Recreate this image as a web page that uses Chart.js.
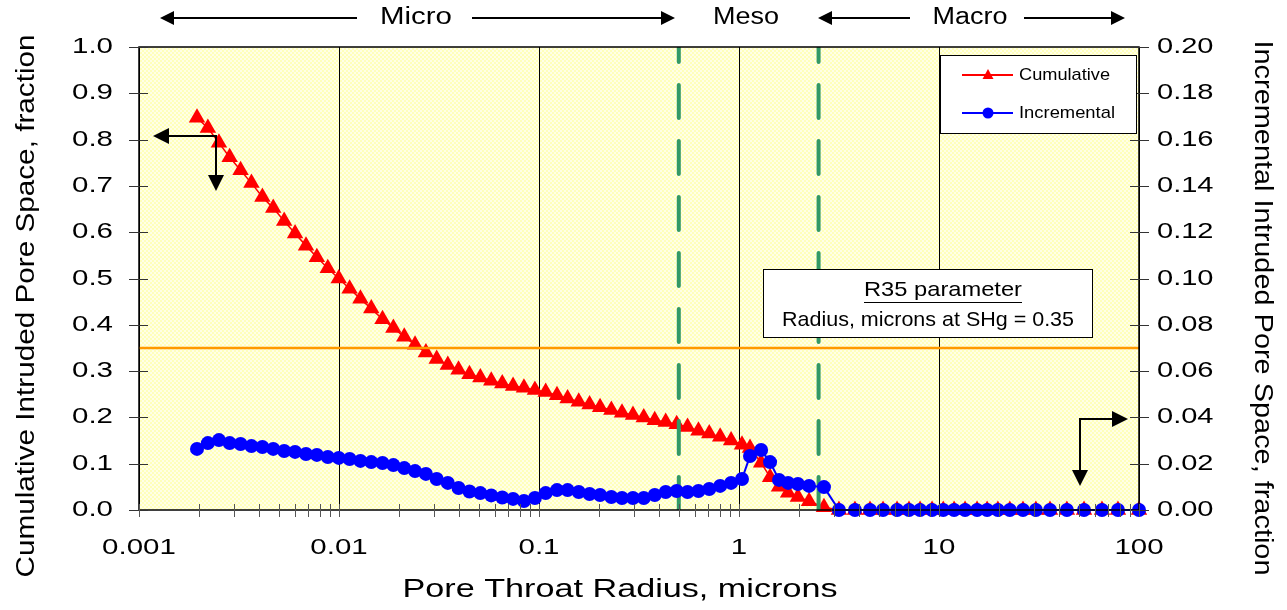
<!DOCTYPE html>
<html>
<head>
<meta charset="utf-8">
<script src="https://cdn.jsdelivr.net/npm/chart.js@4.4.1/dist/chart.umd.min.js"></script>
<style>
  html, body { margin: 0; padding: 0; background: #fff; }
  #wrap { width: 1287px; height: 610px; }
</style>
</head>
<body>
<div id="wrap"><canvas id="poreChart"></canvas></div>
<script>
// pore throat radius, microns (shared by both series)
const radius = [
  0.00195, 0.00221, 0.00251, 0.00284, 0.00322, 0.00365, 0.00414, 0.00469, 0.00532, 0.00603,
  0.00684, 0.00775, 0.00879, 0.00997, 0.0113, 0.0128, 0.0145, 0.0165, 0.0187, 0.0212,
  0.0240, 0.0272, 0.0308, 0.0350, 0.0396, 0.0449, 0.0509, 0.0577, 0.0655, 0.0742,
  0.0841, 0.0954, 0.108, 0.123, 0.139, 0.158, 0.179, 0.202, 0.230, 0.260,
  0.295, 0.334, 0.379, 0.430, 0.488, 0.553, 0.627, 0.710, 0.805, 0.913,
  1.035, 1.135, 1.29, 1.43, 1.585, 1.76, 1.97, 2.24, 2.66,
  3.16, 3.8, 4.52, 5.25, 6.17, 7.08, 8.04, 9.23, 10.5, 11.9,
  13.5, 15.5, 17.4, 19.7, 22.6, 26.3, 30.5, 35.9, 43.6, 53.1,
  65.3, 78.5, 100
];
// cumulative intruded pore space, fraction (left axis)
const cumulative = [
  0.847, 0.825, 0.793, 0.762, 0.734, 0.706, 0.676, 0.652, 0.624, 0.597,
  0.571, 0.546, 0.522, 0.500, 0.478, 0.456, 0.435, 0.412, 0.393, 0.374,
  0.357, 0.340, 0.326, 0.313, 0.303, 0.293, 0.286, 0.279, 0.273, 0.268,
  0.264, 0.259, 0.255, 0.248, 0.241, 0.234, 0.228, 0.222, 0.216, 0.210,
  0.205, 0.200, 0.194, 0.190, 0.185, 0.179, 0.171, 0.165, 0.158, 0.150,
  0.141, 0.134, 0.102, 0.071, 0.050, 0.037, 0.028, 0.019, 0.006,
  0, 0, 0, 0, 0, 0, 0, 0, 0, 0,
  0, 0, 0, 0, 0, 0, 0, 0, 0, 0,
  0, 0, 0
];
// incremental intruded pore space, fraction (right axis)
const incremental = [
  0.0264, 0.0289, 0.0302, 0.0289, 0.0285, 0.0276, 0.0272, 0.0264, 0.0255, 0.0251,
  0.0242, 0.0238, 0.0229, 0.0225, 0.0220, 0.0212, 0.0207, 0.0203, 0.0194, 0.0181,
  0.0168, 0.0156, 0.0134, 0.0117, 0.0095, 0.0080, 0.0073, 0.0063, 0.0054, 0.0048,
  0.0039, 0.0052, 0.0073, 0.0086, 0.0086, 0.0078, 0.0069, 0.0065, 0.0056, 0.0052,
  0.0052, 0.0052, 0.0065, 0.0078, 0.0082, 0.0078, 0.0082, 0.0091, 0.0104, 0.0117,
  0.0134, 0.0233, 0.0259, 0.0207, 0.0130, 0.0117, 0.0112, 0.0104, 0.0099,
  0, 0, 0, 0, 0, 0, 0, 0, 0, 0,
  0, 0, 0, 0, 0, 0, 0, 0, 0, 0,
  0, 0, 0
];

const r35Level = 0.35;
const mesoBounds = [0.5, 2.5];
const radiusRange = [0.001, 100];

const radiusTicks = [0.001, 0.01, 0.1, 1, 10, 100];
const radiusLabels = ['0.001', '0.01', '0.1', '1', '10', '100'];
const cumTicks = [0, 0.1, 0.2, 0.3, 0.4, 0.5, 0.6, 0.7, 0.8, 0.9, 1.0];
const cumLabels = ['0.0', '0.1', '0.2', '0.3', '0.4', '0.5', '0.6', '0.7', '0.8', '0.9', '1.0'];
const incTicks = [0, 0.02, 0.04, 0.06, 0.08, 0.10, 0.12, 0.14, 0.16, 0.18, 0.20];
const incLabels = ['0.00', '0.02', '0.04', '0.06', '0.08', '0.10', '0.12', '0.14', '0.16', '0.18', '0.20'];

const FONT = '"Liberation Sans", Arial, sans-serif';

// text helpers (the reference text is drawn wide, so allow horizontal stretch)
function drawText(ctx, s, x, y, size, sx, align, rot) {
  ctx.save();
  ctx.translate(x, y);
  if (rot) ctx.rotate(rot);
  ctx.scale(sx, 1);
  ctx.font = size + 'px ' + FONT;
  ctx.fillStyle = '#000';
  ctx.textAlign = align;
  ctx.textBaseline = 'middle';
  ctx.fillText(s, 0, 0);
  ctx.restore();
}
function fitText(ctx, s, cx, y, size, width, rot) {
  ctx.font = size + 'px ' + FONT;
  const w = ctx.measureText(s).width;
  drawText(ctx, s, cx, y, size, width / w, 'center', rot);
}
function arrow(ctx, x1, y1, x2, y2, head, hw, lw) {
  const a = Math.atan2(y2 - y1, x2 - x1);
  const bx = x2 - Math.cos(a) * head, by = y2 - Math.sin(a) * head;
  ctx.save();
  ctx.strokeStyle = '#000';
  ctx.fillStyle = '#000';
  ctx.lineWidth = lw;
  ctx.beginPath();
  ctx.moveTo(x1, y1);
  ctx.lineTo(bx, by);
  ctx.stroke();
  ctx.beginPath();
  ctx.moveTo(x2, y2);
  ctx.lineTo(bx - Math.sin(a) * hw, by + Math.cos(a) * hw);
  ctx.lineTo(bx + Math.sin(a) * hw, by - Math.cos(a) * hw);
  ctx.closePath();
  ctx.fill();
  ctx.restore();
}

// pale yellow checker background
const patCanvas = document.createElement('canvas');
patCanvas.width = 4; patCanvas.height = 4;
const pctx = patCanvas.getContext('2d');
pctx.fillStyle = '#FFFFE6'; pctx.fillRect(0, 0, 4, 4);
pctx.fillStyle = '#FFFFBB'; pctx.fillRect(0, 0, 2, 2); pctx.fillRect(2, 2, 2, 2);

const decor = {
  id: 'decor',
  beforeDraw(chart) {
    const { ctx, chartArea: a } = chart;
    ctx.save();
    ctx.fillStyle = ctx.createPattern(patCanvas, 'repeat');
    ctx.fillRect(a.left, a.top, a.right - a.left, a.bottom - a.top);
    ctx.restore();
  },
  afterDatasetsDraw(chart) {
    const { ctx, chartArea: a, scales } = chart;
    const xs = scales.x, ys = scales.y, y1 = scales.y1;
    ctx.save();

    // frame
    ctx.strokeStyle = '#000';
    ctx.lineWidth = 1.5;
    ctx.strokeRect(a.left, a.top, a.right - a.left, a.bottom - a.top);

    // tick marks crossing the axes
    ctx.lineWidth = 1;
    ctx.strokeStyle = '#333';
    cumTicks.forEach(v => {
      const y = Math.round(ys.getPixelForValue(v)) + 0.5;
      ctx.beginPath(); ctx.moveTo(a.left - 10, y); ctx.lineTo(a.left + 9, y); ctx.stroke();
    });
    incTicks.forEach(v => {
      const y = Math.round(y1.getPixelForValue(v)) + 0.5;
      ctx.beginPath(); ctx.moveTo(a.right - 9, y); ctx.lineTo(a.right + 10, y); ctx.stroke();
    });
    ctx.strokeStyle = '#555';
    for (let d = 0; d < radiusTicks.length; d++) {
      for (let m = 1; m <= 9; m++) {
        const v = radiusTicks[d] * m;
        if (v > radiusRange[1]) break;
        const x = Math.round(xs.getPixelForValue(v)) + 0.5;
        ctx.beginPath(); ctx.moveTo(x, a.bottom - 6); ctx.lineTo(x, a.bottom + 7); ctx.stroke();
      }
    }

    // tick labels
    cumTicks.forEach((v, i) => drawText(ctx, cumLabels[i], 113, ys.getPixelForValue(v), 22, 1.34, 'right'));
    incTicks.forEach((v, i) => drawText(ctx, incLabels[i], 1157, y1.getPixelForValue(v), 22, 1.32, 'left'));
    radiusTicks.forEach((v, i) => drawText(ctx, radiusLabels[i], xs.getPixelForValue(v), 548, 22, 1.34, 'center'));

    // axis titles
    fitText(ctx, 'Pore Throat Radius, microns', 620, 590, 25, 435);
    fitText(ctx, 'Cumulative Intruded Pore Space, fraction', 27, 306, 26, 543, -Math.PI / 2);
    fitText(ctx, 'Incremental Intruded Pore Space, fraction', 1262, 308, 26, 535, Math.PI / 2);

    // pore class band on top
    fitText(ctx, 'Micro', 416, 18, 23, 72);
    fitText(ctx, 'Meso', 746, 18, 23, 66);
    fitText(ctx, 'Macro', 970, 18, 23, 75);
    arrow(ctx, 357, 18, 160, 18, 14, 7, 2);
    arrow(ctx, 472, 18, 675, 18, 14, 7, 2);
    arrow(ctx, 910, 18, 818, 18, 14, 7, 2);
    arrow(ctx, 1024, 18, 1125, 18, 14, 7, 2);

    // axis pointer arrows
    arrow(ctx, 216, 136, 153, 136, 16, 8, 2);
    arrow(ctx, 216, 135, 216, 191, 16, 8, 2);
    arrow(ctx, 1080, 419, 1128, 419, 16, 8, 2);
    arrow(ctx, 1080, 418, 1080, 486, 16, 8, 2);

    // R35 box
    ctx.fillStyle = '#fff';
    ctx.fillRect(763, 269, 329, 68);
    ctx.strokeStyle = '#000';
    ctx.lineWidth = 1;
    ctx.strokeRect(763.5, 269.5, 329, 68);
    fitText(ctx, 'R35 parameter', 943, 290, 21, 158);
    ctx.beginPath(); ctx.moveTo(864, 302.5); ctx.lineTo(1022, 302.5); ctx.stroke();
    fitText(ctx, 'Radius, microns at SHg = 0.35', 928, 320, 21, 292);

    // legend
    ctx.fillStyle = '#fff';
    ctx.fillRect(940, 55, 196, 78);
    ctx.strokeRect(940.5, 55.5, 196, 78);
    ctx.lineWidth = 2;
    ctx.strokeStyle = '#FF0000';
    ctx.beginPath(); ctx.moveTo(962, 75); ctx.lineTo(1013, 75); ctx.stroke();
    ctx.fillStyle = '#FF0000';
    ctx.beginPath(); ctx.moveTo(988, 69); ctx.lineTo(993.5, 79); ctx.lineTo(982.5, 79); ctx.closePath(); ctx.fill();
    ctx.strokeStyle = '#0000FF';
    ctx.beginPath(); ctx.moveTo(962, 113); ctx.lineTo(1013, 113); ctx.stroke();
    ctx.fillStyle = '#0000FF';
    ctx.beginPath(); ctx.arc(988, 113, 5.5, 0, Math.PI * 2); ctx.fill();
    ctx.font = '17px ' + FONT;
    const w1 = ctx.measureText('Cumulative').width, w2 = ctx.measureText('Incremental').width;
    drawText(ctx, 'Cumulative', 1019, 75, 17, 91 / w1, 'left');
    drawText(ctx, 'Incremental', 1019, 113, 17, 96 / w2, 'left');

    ctx.restore();
  }
};

const pairs = ys => radius.map((r, i) => ({ x: r, y: ys[i] }));

new Chart(document.getElementById('poreChart'), {
  type: 'scatter',
  data: {
    datasets: [
      {
        label: 'Incremental',
        data: pairs(incremental),
        yAxisID: 'y1',
        showLine: true,
        borderColor: '#0000FF',
        backgroundColor: '#0000FF',
        borderWidth: 2,
        pointStyle: 'circle',
        pointRadius: 7,
        pointBorderWidth: 0,
        clip: false,
        order: 1
      },
      {
        label: 'Meso lower',
        data: [{ x: mesoBounds[0], y: 0 }, { x: mesoBounds[0], y: 1 }],
        showLine: true,
        borderColor: '#339966',
        borderWidth: 4,
        borderDash: [33, 23],
        borderCapStyle: 'round',
        pointRadius: 0,
        order: 2
      },
      {
        label: 'Meso upper',
        data: [{ x: mesoBounds[1], y: 0 }, { x: mesoBounds[1], y: 1 }],
        showLine: true,
        borderColor: '#339966',
        borderWidth: 4,
        borderDash: [33, 23],
        borderCapStyle: 'round',
        pointRadius: 0,
        order: 2
      },
      {
        label: 'R35',
        data: [{ x: radiusRange[0], y: r35Level }, { x: radiusRange[1], y: r35Level }],
        showLine: true,
        borderColor: '#FF9900',
        borderWidth: 2.5,
        pointRadius: 0,
        order: 3
      },
      {
        label: 'Cumulative',
        data: pairs(cumulative),
        showLine: true,
        borderColor: '#FF0000',
        backgroundColor: '#FF0000',
        borderWidth: 1.5,
        pointStyle: 'triangle',
        pointRadius: 9.5,
        pointBorderWidth: 0,
        clip: false,
        order: 4
      }
    ]
  },
  options: {
    animation: false,
    responsive: true,
    maintainAspectRatio: false,
    layout: { padding: { top: 47, left: 0, right: 0, bottom: 0 } },
    plugins: { legend: { display: false }, tooltip: { enabled: false } },
    scales: {
      x: {
        type: 'logarithmic',
        min: radiusRange[0],
        max: radiusRange[1],
        afterBuildTicks: s => { s.ticks = radiusTicks.map(v => ({ value: v })); },
        ticks: { display: false },
        grid: { color: '#000', lineWidth: 1, drawTicks: false },
        border: { display: false },
        afterFit: s => { s.height = 100; }
      },
      y: {
        min: 0, max: 1,
        ticks: { display: false },
        grid: { display: false },
        border: { display: false },
        afterFit: s => { s.width = 139; }
      },
      y1: {
        position: 'right',
        min: 0, max: 0.2,
        ticks: { display: false },
        grid: { display: false },
        border: { display: false },
        afterFit: s => { s.width = 148; }
      }
    }
  },
  plugins: [decor]
});
</script>
</body>
</html>
